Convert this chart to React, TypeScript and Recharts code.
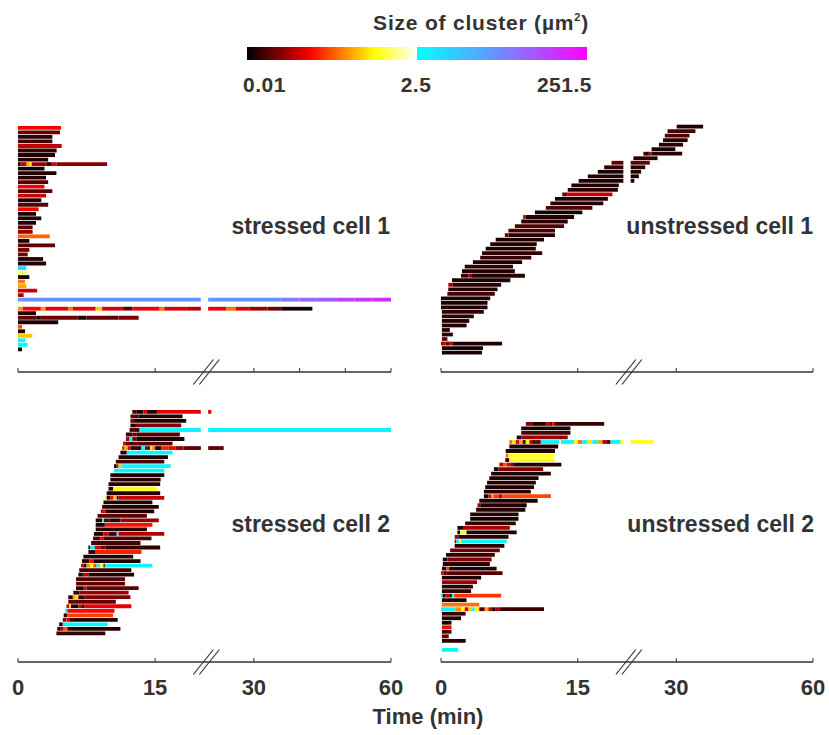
import React from "react";
import { BarChart, Bar, XAxis, YAxis, Cell } from "recharts";

type Track = number[]; // [start, end1, size1, end2, size2, ...] time in min, size in µm²

// ---------- data (time in minutes, cluster size in µm²) ----------
const stressedCell1: Track[] = [
  [0, 4.7, 0.075],
  [0, 4.6, 0.022],
  [0, 3.76, 0.015],
  [0, 3.76, 0.017],
  [0, 4.78, 0.05],
  [0, 4.23, 0.016],
  [0, 4.05, 0.013],
  [0, 3.3, 0.013],
  [0, 0.3, 0.012, 0.95, 0.05, 1.2, 0.3, 1.5, 0.5, 3.1, 0.035, 3.7, 0.013, 4.2, 0.06, 9.75, 0.03],
  [0, 2.9, 0.012],
  [0, 4.2, 0.013],
  [0, 3.07, 0.014],
  [0, 3.3, 0.02],
  [0, 2.9, 0.07],
  [0, 3.76, 0.02],
  [0, 3.07, 0.055],
  [0, 2.55, 0.014],
  [0, 3.3, 0.02],
  [0, 2.26, 0.08],
  [0, 1.97, 0.012],
  [0, 2.55, 0.013],
  [0, 1.97, 0.013],
  [0, 1.6, 0.022],
  [0, 1.6, 0.035],
  [0, 3.47, 0.18],
  [0, 1.24, 0.013],
  [0, 4.05, 0.022],
  [0, 1.24, 0.025],
  [0, 1.06, 0.025],
  [0, 2.74, 0.014],
  [0, 3.07, 0.013],
  [0, 0.91, 6],
  [0, 0.91, 1.0],
  [0, 1.24, 0.013],
  [0, 0.77, 0.22],
  [0, 0.91, 0.3],
  [0, 2.1, 0.05],
  [0, 0.62, 0.045],
  [0, 36, 20, 40, 30, 44, 45, 48, 60, 52, 80, 56, 100, 60, 120],
  [0, 0.77, 2.2],
  [0, 0.5, 0.25, 2.5, 0.08, 3.0, 0.3, 5.5, 0.065, 6.0, 0.2, 8.5, 0.07, 9.2, 0.4, 11.5, 0.06, 12.5, 0.02, 15.5, 0.07, 16.0, 0.2, 18.5, 0.06, 20, 0.045, 24, 0.07, 26, 0.2, 29, 0.06, 33, 0.035, 36, 0.025, 42.8, 0.012],
  [0, 1.97, 0.014],
  [0, 2, 0.022, 2.5, 0.012, 6.5, 0.025, 7.5, 0.013, 11, 0.022, 13.2, 0.028],
  [0, 4.4, 0.013],
  [0, 0.44, 0.15],
  [0, 0.77, 0.013],
  [0, 1.57, 0.4],
  [0, 0.77, 2.8],
  [0, 1.06, 2.7],
  [0, 0.44, 0.014],
];

const unstressedCell1: Track[] = [
  [30.1, 35.9, 0.013],
  [28.1, 34.2, 0.018],
  [27.5, 32.9, 0.02],
  [27.1, 32.5, 0.014],
  [26.2, 31.5, 0.014],
  [24.6, 29.8, 0.012],
  [22.8, 24, 0.016, 24.6, 0.04, 31.3, 0.014],
  [20.6, 25.9, 0.014],
  [18.7, 24.2, 0.022],
  [17.9, 23.2, 0.014],
  [17.2, 22.3, 0.013],
  [16.1, 21.8, 0.013],
  [15.1, 20.8, 0.012],
  [14.3, 19.5, 0.013],
  [13.9, 19.4, 0.014],
  [13.3, 13.9, 0.025, 18.8, 0.05],
  [12.5, 18.3, 0.013],
  [12.0, 17.8, 0.013],
  [11.5, 16.6, 0.02],
  [10.3, 15.5, 0.012],
  [9.0, 9.3, 0.05, 14.6, 0.013],
  [8.8, 13.9, 0.014],
  [8.1, 13.5, 0.02],
  [7.4, 12.5, 0.018],
  [7.0, 7.4, 0.025, 12.5, 0.013],
  [6.0, 11.3, 0.013],
  [5.4, 10.5, 0.014],
  [4.9, 10.4, 0.013],
  [4.5, 11.1, 0.015],
  [4.3, 9.9, 0.016],
  [3.5, 8.9, 0.013],
  [2.6, 7.9, 0.015],
  [2.3, 8.1, 0.013],
  [2.2, 3.0, 0.016, 3.4, 0.035, 9.2, 0.014],
  [1.2, 7.6, 0.013],
  [0.8, 1.3, 0.04, 6.6, 0.014],
  [0.8, 6.2, 0.013],
  [0.7, 5.9, 0.018],
  [0, 5.4, 0.013],
  [0, 5.1, 0.012],
  [0, 5.1, 0.013],
  [0.1, 4.7, 0.015],
  [0.1, 3.6, 0.014],
  [0.1, 3.1, 0.013],
  [0.1, 2.8, 0.014],
  [0.1, 0.97, 0.013],
  [0.1, 1.3, 0.014],
  [0.1, 0.7, 0.022],
  [0, 0.5, 0.045, 0.9, 0.02, 1.3, 0.045, 6.7, 0.013],
  [0.1, 4.6, 0.012],
  [0.1, 4.5, 0.012],
];

const stressedCell2: Track[] = [
  [12.5, 13.0, 0.02, 13.7, 0.014, 14.1, 0.06, 15.2, 0.014, 20.7, 0.065],
  [12.3, 13.2, 0.02, 18.0, 0.014],
  [12.3, 12.7, 0.025, 18.4, 0.013],
  [12.3, 12.9, 0.014, 17.85, 0.03],
  [12.2, 12.8, 0.02, 13.3, 0.014, 60, 2.9],
  [11.8, 12.5, 0.016, 13.0, 0.022, 17.7, 0.02],
  [11.8, 12.2, 0.04, 12.5, 2.8, 13.0, 0.025, 18.2, 0.013],
  [11.5, 11.8, 0.045, 16.9, 0.02],
  [11.4, 11.6, 0.08, 12.0, 0.3, 12.3, 0.07, 13.5, 0.016, 13.9, 2.8, 14.45, 0.03, 14.7, 0.5, 15.0, 0.2, 15.7, 0.014, 16.5, 0.1, 17.2, 0.07, 18.1, 0.035, 23.4, 0.022],
  [11.2, 11.9, 0.013, 16.9, 3.0],
  [11.0, 16.4, 0.014],
  [10.7, 16.0, 0.018],
  [10.5, 10.8, 0.015, 11.0, 0.07, 11.3, 0.4, 11.6, 2.8, 16.7, 3.0],
  [10.5, 16.0, 3.0],
  [10.1, 16.0, 0.014],
  [10.1, 15.6, 0.013],
  [9.9, 15.55, 0.014],
  [9.9, 10.4, 0.013, 15.25, 0.65],
  [9.7, 15.55, 0.014],
  [9.5, 9.7, 0.7, 10.1, 0.014, 10.45, 0.07, 10.8, 0.4, 11.0, 0.015, 16.0, 0.05],
  [9.35, 14.7, 0.013],
  [9.2, 15.4, 0.014],
  [9.05, 9.6, 0.06, 14.9, 0.013],
  [8.7, 14.1, 0.022],
  [8.5, 9.2, 0.013, 9.4, 2.8, 10.0, 0.02, 11.2, 0.013, 15.4, 0.035],
  [8.5, 9.5, 0.013, 14.7, 0.09],
  [8.5, 14.1, 0.014],
  [8.3, 9.35, 0.013, 9.9, 0.05, 10.8, 0.016, 11.0, 2.8, 16.0, 0.042],
  [8.2, 9.0, 0.02, 9.4, 0.06, 14.6, 0.02],
  [8.0, 13.4, 0.018],
  [7.7, 7.9, 0.013, 8.4, 2.9, 9.0, 0.06, 9.6, 0.025, 15.55, 0.014],
  [7.7, 8.5, 0.013, 13.5, 0.1],
  [7.15, 12.6, 0.014],
  [7.0, 7.8, 0.014, 8.25, 0.07, 13.4, 0.013],
  [6.9, 7.15, 0.06, 7.5, 0.014, 7.9, 0.25, 8.25, 0.6, 8.6, 0.15, 9.0, 2.8, 9.35, 0.8, 9.5, 0.013, 14.7, 3.0],
  [6.7, 12.4, 0.018],
  [6.6, 7.1, 0.013, 7.7, 0.05, 12.7, 0.013],
  [6.35, 11.7, 0.02],
  [6.35, 11.7, 0.022],
  [6.35, 7.2, 0.014, 7.5, 0.06, 13.2, 0.022],
  [6.05, 6.7, 0.016, 12.1, 0.035],
  [5.5, 6.0, 0.015, 6.3, 0.3, 6.6, 0.5, 7.3, 0.016, 12.3, 0.028],
  [5.5, 10.7, 0.022],
  [5.3, 5.6, 0.06, 5.8, 0.5, 6.6, 0.014, 7.0, 0.05, 7.3, 0.02, 12.4, 0.065],
  [5.15, 5.4, 2.8, 10.55, 0.08],
  [5.0, 5.4, 0.014, 10.4, 0.13],
  [4.9, 5.3, 0.03, 5.6, 0.065, 10.9, 0.013],
  [4.5, 4.9, 0.014, 9.8, 2.9],
  [4.3, 4.6, 0.014, 5.0, 0.04, 5.4, 0.15, 11.2, 0.014],
  [4.2, 9.55, 0.015],
];

const unstressedCell2: Track[] = [
  [9.3, 10.0, 0.03, 11.5, 0.014, 11.9, 0.04, 12.2, 0.016, 12.5, 0.07, 17.9, 0.015],
  [8.8, 14.2, 0.013],
  [8.8, 14.2, 0.018],
  [8.3, 8.8, 0.013, 13.9, 0.035],
  [7.5, 7.8, 0.2, 8.2, 0.5, 8.6, 0.06, 8.95, 0.35, 9.3, 0.015, 9.7, 0.6, 10.1, 0.04, 10.4, 0.013, 10.95, 0.025, 12.96, 2.8, 13.15, 2.2, 14.6, 2.8, 15.0, 0.6, 15.5, 0.2, 16.0, 2.8, 16.6, 0.5, 17.2, 2.8, 17.7, 0.3, 18.2, 0.04, 18.6, 0.02, 19.7, 2.8, 20, 0.65, 25.0, 0.7],
  [7.5, 12.85, 0.013],
  [7.1, 12.5, 0.013],
  [7.1, 7.4, 0.2, 12.35, 0.75],
  [7.05, 7.5, 0.013, 12.5, 0.7],
  [6.4, 6.8, 0.05, 7.2, 0.15, 7.6, 0.06, 8.0, 0.03, 13.2, 0.013],
  [5.8, 6.3, 0.013, 11.2, 0.028],
  [5.5, 12.05, 0.013],
  [5.3, 10.7, 0.013],
  [5.05, 10.4, 0.014],
  [4.85, 10.2, 0.013],
  [4.7, 9.85, 0.014],
  [4.7, 5.2, 0.013, 5.5, 0.06, 5.8, 0.25, 6.3, 0.12, 6.75, 0.05, 12.05, 0.14],
  [4.2, 10.6, 0.013],
  [4.0, 4.3, 0.04, 9.4, 0.013],
  [3.85, 9.25, 0.013],
  [3.2, 8.5, 0.014],
  [3.2, 8.5, 0.012],
  [2.65, 8.2, 0.015],
  [1.8, 2.5, 0.013, 7.55, 0.04],
  [1.8, 2.1, 0.012, 2.3, 0.8, 2.8, 0.6, 8.3, 0.013],
  [1.5, 1.9, 0.035, 7.4, 0.014],
  [1.5, 1.7, 0.03, 2.0, 2.8, 2.2, 0.7, 7.2, 2.9],
  [1.5, 6.95, 0.014],
  [1.0, 6.45, 0.025],
  [0.55, 5.9, 0.015],
  [0.2, 0.7, 0.013, 5.55, 0.03],
  [0.2, 5.35, 0.013],
  [0.1, 0.6, 0.014, 0.9, 0.12, 6.1, 0.014],
  [0, 0.3, 0.06, 0.6, 0.013, 6.75, 0.02],
  [0.1, 4.4, 0.013],
  [0.1, 3.95, 0.035],
  [0.1, 3.5, 0.014],
  [0.1, 3.3, 0.015],
  [0, 0.2, 2.8, 0.5, 0.013, 1.0, 0.05, 1.2, 0.015, 1.45, 2.8, 6.6, 0.12],
  [0.1, 2.8, 0.013],
  [0.1, 4.2, 0.2],
  [0, 1.6, 2.8, 2.2, 0.25, 2.6, 0.6, 3.0, 0.06, 3.4, 0.4, 3.7, 2.8, 4.2, 0.6, 4.8, 0.02, 5.2, 0.3, 5.6, 0.05, 6.0, 0.013, 6.4, 0.04, 11.3, 0.016],
  [0.1, 2.7, 0.017],
  [0.1, 2.2, 0.013],
  [0.1, 1.15, 0.012],
  [0.1, 1.15, 0.08],
  [0.1, 1.15, 0.02],
  [0.1, 0.85, 0.022],
  [0.1, 2.7, 0.014],
  [],
  [0.1, 1.9, 2.9],
];

const ticksDefault = [0, 15, 30, 60];
const ticksStressed1 = [0, 15, 30, 40, 50, 60];
const labelledTicks = [0, 15, 30, 60];
const sizeMin = 0.01;
const sizeMid = 2.5;
const sizeMax = 251.5;
const colorbarLabels = ["0.01", "2.5", "251.5"];

// ---------- broken time axis: 0–20 at full scale, 20–60 at half scale ----------
const BREAK = 20;
const GAP = 0.8;
const dispR = (t: number) => BREAK + GAP + (t - BREAK) / 2;
const disp = (t: number) => (t <= BREAK ? t : dispR(t));
const BREAK_MARK = 20.55;
const DOMAIN_MAX = disp(60);

// ---------- colormap ----------
const clamp = (v: number) => Math.max(0, Math.min(1, v));
const toHex = (r: number, g: number, b: number) =>
  "#" + [r, g, b].map((v) => Math.round(v).toString(16).padStart(2, "0")).join("");
function hot(f: number) {
  return toHex(255 * clamp(f / 0.375), 255 * clamp((f - 0.375) / 0.375), 255 * clamp((f - 0.75) / 0.25));
}
const coolStops: [number, number[]][] = [
  [0, [0, 255, 255]],
  [0.45, [100, 150, 255]],
  [1, [255, 0, 255]],
];
function cool(f: number) {
  f = clamp(f);
  for (let i = 1; i < coolStops.length; i++) {
    const [f1, c1] = coolStops[i];
    const [f0, c0] = coolStops[i - 1];
    if (f <= f1) {
      const u = (f - f0) / (f1 - f0);
      return toHex(c0[0] + (c1[0] - c0[0]) * u, c0[1] + (c1[1] - c0[1]) * u, c0[2] + (c1[2] - c0[2]) * u);
    }
  }
  return "#ff00ff";
}
function sizeColor(s: number) {
  const L = Math.log10;
  if (s < sizeMid) return hot((L(s) - L(sizeMin)) / (L(sizeMid) - L(sizeMin)));
  return cool((L(s) - L(sizeMid)) / (L(sizeMax) - L(sizeMid)));
}

// ---------- build stacked rows ----------
function buildPanel(tracks: Track[]) {
  const rows: any[] = [];
  const colors: string[][] = [];
  let maxN = 0;
  tracks.forEach((tr, i) => {
    const pieces: [number, number, string][] = [];
    if (tr.length >= 3) {
      let a = tr[0];
      for (let k = 1; k + 1 < tr.length; k += 2) {
        const b = tr[k];
        const c = sizeColor(tr[k + 1]);
        if (b <= BREAK) pieces.push([a, b, c]);
        else if (a >= BREAK) pieces.push([dispR(a), dispR(b), c]);
        else {
          pieces.push([a, BREAK, c]);
          pieces.push([dispR(BREAK), dispR(b), c]);
        }
        a = b;
      }
    }
    const row: any = { row: i };
    const cols: string[] = [];
    let cursor = 0;
    let n = 0;
    for (const [x0, x1, c] of pieces) {
      if (x0 > cursor + 1e-9) {
        row["p" + n] = x0 - cursor;
        cols.push("none");
        n++;
      }
      row["p" + n] = x1 - x0;
      cols.push(c);
      n++;
      cursor = x1;
    }
    maxN = Math.max(maxN, n);
    rows.push(row);
    colors.push(cols);
  });
  rows.forEach((r) => {
    for (let k = 0; k < maxN; k++) if (r["p" + k] === undefined) r["p" + k] = 0;
  });
  return { rows, colors, maxN };
}

const FONT = "'Liberation Sans', Arial, Helvetica, sans-serif";
const INK = "#333333";

function renderTick(props: any, showLabels: boolean) {
  const { x, y, payload } = props;
  const v = payload.value;
  if (Math.abs(v - BREAK_MARK) < 1e-6) {
    return (
      <g>
        <line x1={x - 12.5} y1={y + 12.5} x2={x + 7.5} y2={y - 12.5} stroke={INK} strokeWidth={1.2} />
        <line x1={x - 6.5} y1={y + 12.5} x2={x + 13.5} y2={y - 12.5} stroke={INK} strokeWidth={1.2} />
      </g>
    );
  }
  const t = labelledTicks.find((tt) => Math.abs(disp(tt) - v) < 1e-6);
  return (
    <g>
      <line x1={x} y1={y} x2={x} y2={y - 4} stroke={INK} strokeWidth={1} />
      {showLabels && t !== undefined ? (
        <text x={x} y={y + 33} textAnchor="middle" fontFamily={FONT} fontWeight="bold" fontSize={22} fill={INK}>
          {String(t)}
        </text>
      ) : null}
    </g>
  );
}

function Panel(props: {
  tracks: Track[];
  left: number;
  top: number;
  width: number;
  height: number;
  margin: { top: number; right: number; bottom: number; left: number };
  xHeight: number;
  padBottom: number;
  ticks: number[];
  showLabels: boolean;
}) {
  const { rows, colors, maxN } = buildPanel(props.tracks);
  const tickVals = [...props.ticks.map(disp), BREAK_MARK].sort((a, b) => a - b);
  const bars = [];
  for (let k = 0; k < maxN; k++) {
    bars.push(
      <Bar key={k} dataKey={"p" + k} stackId="a" barSize={3.8} isAnimationActive={false}>
        {rows.map((_, i) => (
          <Cell key={i} fill={colors[i][k] || "none"} />
        ))}
      </Bar>
    );
  }
  return (
    <div style={{ position: "absolute", left: props.left, top: props.top }}>
      <BarChart width={props.width} height={props.height} data={rows} layout="vertical" margin={props.margin}>
        <XAxis
          type="number"
          domain={[0, DOMAIN_MAX]}
          allowDataOverflow
          ticks={tickVals}
          interval={0}
          tickLine={false}
          tickSize={0}
          tickMargin={0}
          height={props.xHeight}
          axisLine={{ stroke: INK, strokeWidth: 1.3 }}
          tick={(p: any) => renderTick(p, props.showLabels)}
        />
        <YAxis type="category" dataKey="row" hide width={0} padding={{ top: 0, bottom: props.padBottom }} />
        {bars}
      </BarChart>
    </div>
  );
}

function colorbarStops() {
  const stops = [];
  const n = 24;
  for (let i = 0; i <= n; i++) {
    stops.push(<stop key={"h" + i} offset={`${(i / n) * 50}%`} stopColor={hot(i / n)} />);
  }
  for (let i = 0; i <= n; i++) {
    stops.push(<stop key={"c" + i} offset={`${50 + (i / n) * 50}%`} stopColor={cool(i / n)} />);
  }
  return stops;
}

export default function App() {
  const textProps = { fontFamily: FONT, fontWeight: "bold" as const, fill: INK };
  return (
    <div style={{ position: "absolute", left: 0, top: 0, width: 829, height: 735, background: "#ffffff", overflow: "hidden" }}>
      <Panel tracks={stressedCell1} left={0} top={100} width={415} height={292}
        margin={{ top: 26, right: 24, bottom: 0, left: 18 }} xHeight={20} padBottom={20}
        ticks={ticksStressed1} showLabels={false} />
      <Panel tracks={unstressedCell1} left={420} top={100} width={409} height={292}
        margin={{ top: 24.7, right: 16, bottom: 0, left: 21 }} xHeight={20} padBottom={16.8}
        ticks={ticksDefault} showLabels={false} />
      <Panel tracks={stressedCell2} left={0} top={390} width={415} height={322}
        margin={{ top: 20, right: 24, bottom: 0, left: 18 }} xHeight={50} padBottom={26}
        ticks={ticksDefault} showLabels={true} />
      <Panel tracks={unstressedCell2} left={420} top={390} width={409} height={322}
        margin={{ top: 32, right: 16, bottom: 0, left: 21 }} xHeight={50} padBottom={9.5}
        ticks={ticksDefault} showLabels={true} />

      <svg width={829} height={735} style={{ position: "absolute", left: 0, top: 0, pointerEvents: "none" }}>
        <defs>
          <linearGradient id="cbar" x1="0" x2="1" y1="0" y2="0">
            {colorbarStops()}
          </linearGradient>
        </defs>
        <text x={589} y={30} textAnchor="end" fontSize={21} letterSpacing={0.8} {...textProps}>
          Size of cluster (µm<tspan dy={-9} fontSize={11}>2</tspan><tspan dy={9}>)</tspan>
        </text>
        <rect x={247} y={47} width={340} height={13} fill="url(#cbar)" />
        <text x={243} y={92} fontSize={21} letterSpacing={0.5} {...textProps}>{colorbarLabels[0]}</text>
        <text x={416} y={92} textAnchor="middle" fontSize={21} letterSpacing={0.5} {...textProps}>{colorbarLabels[1]}</text>
        <text x={592} y={92} textAnchor="end" fontSize={21} letterSpacing={0.5} {...textProps}>{colorbarLabels[2]}</text>

        <text x={390} y={234} textAnchor="end" fontSize={23} {...textProps}>stressed cell 1</text>
        <text x={813} y={234} textAnchor="end" fontSize={23} {...textProps}>unstressed cell 1</text>
        <text x={390} y={532} textAnchor="end" fontSize={23} {...textProps}>stressed cell 2</text>
        <text x={814} y={532} textAnchor="end" fontSize={23} {...textProps}>unstressed cell 2</text>

        <text x={428} y={724} textAnchor="middle" fontSize={22} {...textProps}>Time (min)</text>
      </svg>
    </div>
  );
}
